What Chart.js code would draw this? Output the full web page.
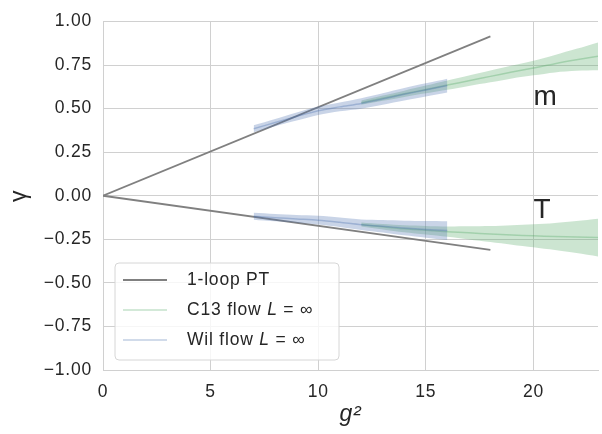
<!DOCTYPE html>
<html>
<head>
<meta charset="utf-8">
<script src="https://cdn.jsdelivr.net/npm/chart.js@4"></script>
<style>
  html, body { margin: 0; padding: 0; background: #fff; }
  #wrap { width: 602px; height: 434px; }
</style>
</head>
<body>
<div id="wrap"><canvas id="gammaChart"></canvas></div>
<script>
// 1-loop perturbation theory lines
const ptX = [0, 18];
const ptM = [0, 0.915];
const ptT = [0, -0.31];

// C13 flow, L = inf
const c13X = [12, 13, 14, 15, 16, 17, 18, 19, 20, 21, 22, 23];
const c13M = [0.534, 0.56, 0.585, 0.61, 0.635, 0.66, 0.685, 0.71, 0.733, 0.758, 0.78, 0.80];
const c13MErr = [0.012, 0.015, 0.018, 0.022, 0.027, 0.03, 0.034, 0.037, 0.042, 0.05, 0.063, 0.08];
const c13T = [-0.165, -0.178, -0.19, -0.198, -0.206, -0.213, -0.22, -0.225, -0.23, -0.234, -0.237, -0.24];
const c13TErr = [0.012, 0.016, 0.02, 0.025, 0.03, 0.038, 0.046, 0.056, 0.066, 0.078, 0.092, 0.108];

// Wilson flow, L = inf
const wilX = [7, 8, 9, 10, 11, 12, 13, 14, 15, 16];
const wilM = [0.385, 0.42, 0.455, 0.488, 0.51, 0.53, 0.555, 0.582, 0.607, 0.632];
const wilMErr = [0.02, 0.021, 0.023, 0.024, 0.025, 0.03, 0.033, 0.036, 0.038, 0.04];
const wilT = [-0.118, -0.126, -0.133, -0.14, -0.152, -0.166, -0.175, -0.185, -0.193, -0.2];
const wilTErr = [0.02, 0.021, 0.022, 0.025, 0.027, 0.03, 0.036, 0.042, 0.048, 0.054];

const yTicks = [-1, -0.75, -0.5, -0.25, 0, 0.25, 0.5, 0.75, 1];
const curveLabels = ['m', 'T'];
const curveLabelX = [20, 20];
const curveLabelY = [0.52, -0.13];

const legendNames = ['1-loop PT', 'C13 flow ', 'Wil flow '];

const GREEN = '85,168,104';
const BLUE = '76,114,176';
const FONT = '"Liberation Sans", Arial, sans-serif';
const SPACING = '0.8px';

const pts = (xs, ys) => xs.map((x, i) => ({ x: x, y: ys[i] }));
const shift = (ys, es, s) => ys.map((y, i) => y + s * es[i]);

function band(xs, ys, es, rgb) {
  return [
    { data: pts(xs, shift(ys, es, 1)), borderWidth: 0, pointRadius: 0, fill: '+1',
      backgroundColor: 'rgba(' + rgb + ',0.3)', tension: 0.3 },
    { data: pts(xs, shift(ys, es, -1)), borderWidth: 0, pointRadius: 0, fill: false, tension: 0.3 },
    { data: pts(xs, ys), borderColor: 'rgba(' + rgb + ',0.35)', borderWidth: 1.5, pointRadius: 0,
      fill: false, tension: 0.3 }
  ];
}

const datasets = [
  ...band(wilX, wilM, wilMErr, BLUE),
  ...band(wilX, wilT, wilTErr, BLUE),
  ...band(c13X, c13M, c13MErr, GREEN),
  ...band(c13X, c13T, c13TErr, GREEN),
  { data: pts(ptX, ptM), borderColor: '#808080', borderWidth: 1.8, pointRadius: 0, fill: false },
  { data: pts(ptX, ptT), borderColor: '#808080', borderWidth: 1.8, pointRadius: 0, fill: false }
];

// the reference text is set a bit wider than plain Arial
const spacingPlugin = {
  id: 'letterSpacing',
  beforeUpdate(chart) { chart.ctx.letterSpacing = SPACING; },
  beforeLayout(chart) { chart.ctx.letterSpacing = SPACING; },
  beforeDraw(chart) { chart.ctx.letterSpacing = SPACING; }
};

const labelsPlugin = {
  id: 'curveLabels',
  afterDatasetsDraw(chart) {
    const { ctx, scales } = chart;
    ctx.save();
    ctx.letterSpacing = '0px';
    ctx.fillStyle = '#262626';
    ctx.font = '28px ' + FONT;
    ctx.textAlign = 'left';
    ctx.textBaseline = 'alphabetic';
    curveLabels.forEach((t, i) => {
      ctx.fillText(t, scales.x.getPixelForValue(curveLabelX[i]), scales.y.getPixelForValue(curveLabelY[i]));
    });
    ctx.restore();
  }
};

const legendPlugin = {
  id: 'insideLegend',
  afterDraw(chart) {
    const { ctx } = chart;
    const area = chart.chartArea;
    const x0 = area.left + 12, y0 = area.bottom - 107, w = 224, h = 97;
    ctx.save();
    ctx.letterSpacing = SPACING;
    ctx.beginPath();
    ctx.roundRect(x0, y0, w, h, 4);
    ctx.fillStyle = 'rgba(255,255,255,0.8)';
    ctx.fill();
    ctx.strokeStyle = '#d6d6d6';
    ctx.lineWidth = 1;
    ctx.stroke();
    const colors = ['#808080', 'rgba(' + GREEN + ',0.35)', 'rgba(' + BLUE + ',0.35)'];
    ctx.textBaseline = 'middle';
    legendNames.forEach((name, i) => {
      const y = y0 + 17 + i * 30;
      ctx.strokeStyle = colors[i];
      ctx.lineWidth = i === 0 ? 1.8 : 1.5;
      ctx.beginPath();
      ctx.moveTo(x0 + 8, y);
      ctx.lineTo(x0 + 52, y);
      ctx.stroke();
      ctx.fillStyle = '#262626';
      let tx = x0 + 72;
      ctx.font = '17.5px ' + FONT;
      ctx.fillText(name, tx, y);
      if (i > 0) {
        tx += ctx.measureText(name).width;
        ctx.font = 'italic 17.5px ' + FONT;
        ctx.fillText('L', tx, y);
        tx += ctx.measureText('L').width;
        ctx.font = '17.5px ' + FONT;
        ctx.fillText(' = \u221E', tx, y);
      }
    });
    ctx.restore();
  }
};

new Chart(document.getElementById('gammaChart'), {
  type: 'scatter',
  data: { datasets: datasets.map(d => Object.assign({ showLine: true }, d)) },
  options: {
    responsive: true,
    maintainAspectRatio: false,
    animation: false,
    layout: { padding: { top: 11, right: 4, left: 0, bottom: 0 } },
    plugins: { legend: { display: false }, tooltip: { enabled: false } },
    scales: {
      x: {
        type: 'linear', min: 0, max: 23,
        afterFit: s => { s.height = 64; },
        grid: { color: '#d0d0d0', drawTicks: false },
        border: { color: '#d0d0d0' },
        ticks: { stepSize: 5, includeBounds: false, padding: 12, color: '#262626',
                 font: { size: 17.5, family: FONT } },
        title: { display: true, text: 'g\u00B2', color: '#262626', padding: { top: 0, bottom: 6 },
                 font: { size: 23, style: 'italic', family: FONT } }
      },
      y: {
        type: 'linear', min: -1, max: 1,
        afterFit: s => { s.width = 103; },
        afterBuildTicks: s => { s.ticks = yTicks.map(v => ({ value: v })); },
        grid: { color: '#d0d0d0', drawTicks: false },
        border: { color: '#d0d0d0' },
        ticks: { padding: 11, color: '#262626', font: { size: 17.5, family: FONT },
                 callback: v => (v < 0 ? '\u2212' : '') + Math.abs(v).toFixed(2) },
        title: { display: true, text: '\u03B3', color: '#262626', padding: { top: 6, bottom: 0 },
                 font: { size: 23, family: FONT } }
      }
    }
  },
  plugins: [spacingPlugin, labelsPlugin, legendPlugin]
});
</script>
</body>
</html>
